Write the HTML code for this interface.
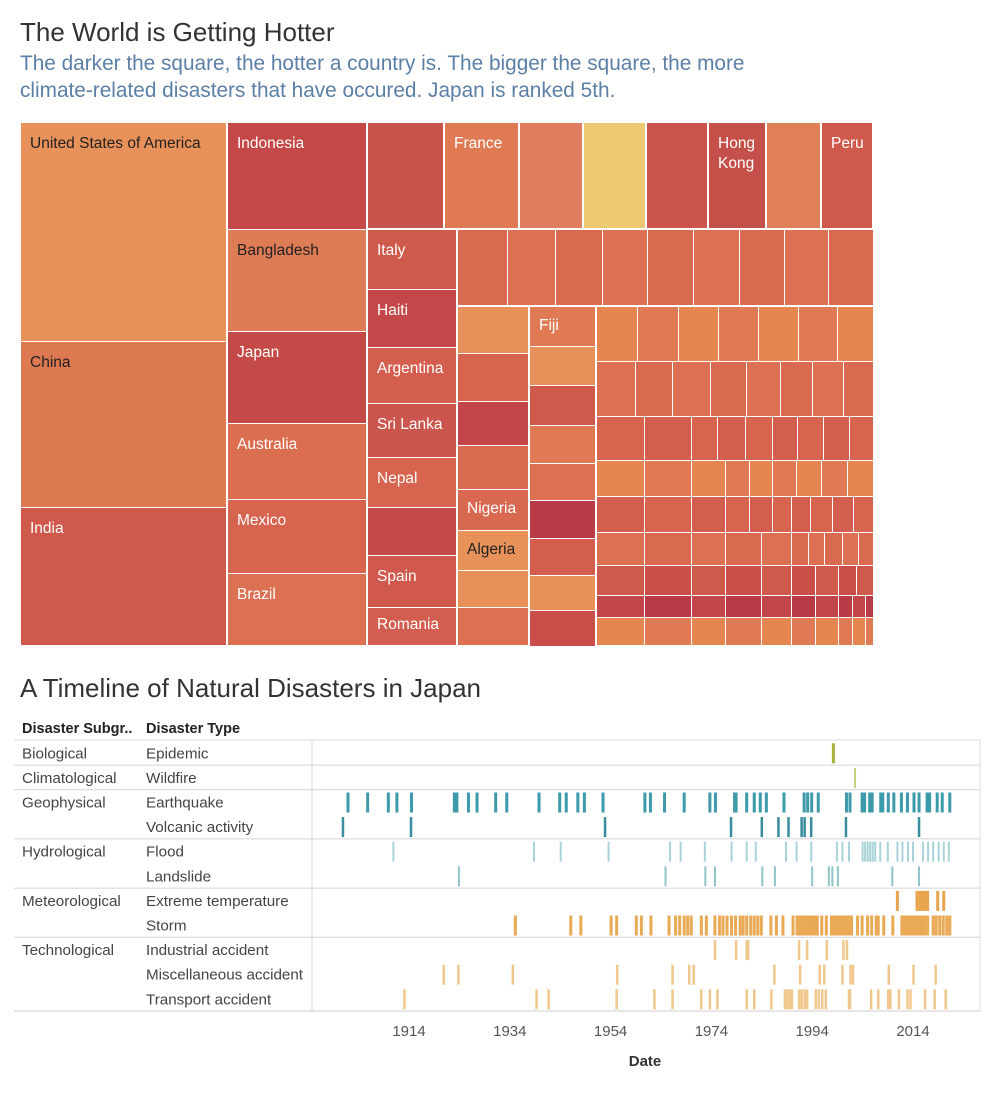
<!DOCTYPE html>
<html><head><meta charset="utf-8">
<style>
body{margin:0;width:995px;height:1100px;background:#fff;font-family:"Liberation Sans",sans-serif;position:relative;overflow:hidden}
.t{position:absolute;white-space:nowrap}
#tm{position:absolute;left:0;top:0}
.c{position:absolute;box-sizing:border-box;border:1px solid #fff;color:#fff;font-size:15.5px;padding:11px 0 0 9px;line-height:20px;white-space:nowrap}
.d{color:#222}
</style></head><body>
<div class="t" style="left:20px;top:17px;font-size:26px;color:#333">The World is Getting Hotter</div>
<div class="t" style="left:20px;top:50px;font-size:20.8px;color:#5b7fa6;line-height:27px">The darker the square, the hotter a country is. The bigger the square, the more<br>climate-related disasters that have occured. Japan is ranked 5th.</div>

<div id="tm">
<div class="c d" style="left:20px;top:122px;width:207px;height:220px;background:#e8915a">United States of America</div>
<div class="c d" style="left:20px;top:341px;width:207px;height:167px;background:#de7a52">China</div>
<div class="c" style="left:20px;top:507px;width:207px;height:139px;background:#cf5a4c">India</div>
<div class="c" style="left:227px;top:122px;width:140px;height:108px;background:#c44848">Indonesia</div>
<div class="c d" style="left:227px;top:229px;width:140px;height:103px;background:#de7c56">Bangladesh</div>
<div class="c" style="left:227px;top:331px;width:140px;height:93px;background:#c44a48">Japan</div>
<div class="c" style="left:227px;top:423px;width:140px;height:77px;background:#dc6e50">Australia</div>
<div class="c" style="left:227px;top:499px;width:140px;height:75px;background:#d6644e">Mexico</div>
<div class="c" style="left:227px;top:573px;width:140px;height:73px;background:#dc7052">Brazil</div>
<div class="c" style="left:367px;top:122px;width:77px;height:107px;background:#c8524c"></div>
<div class="c" style="left:444px;top:122px;width:75px;height:107px;background:#e07a55">France</div>
<div class="c" style="left:519px;top:122px;width:64px;height:107px;background:#e07d5e"></div>
<div class="c" style="left:583px;top:122px;width:63px;height:107px;background:#eec771"></div>
<div class="c" style="left:646px;top:122px;width:62px;height:107px;background:#cb544c"></div>
<div class="c" style="left:708px;top:122px;width:58px;height:107px;background:#c5504a">Hong<br>Kong</div>
<div class="c" style="left:766px;top:122px;width:55px;height:107px;background:#e08058"></div>
<div class="c" style="left:821px;top:122px;width:52px;height:107px;background:#cf5a4c">Peru</div>
<div class="c" style="left:367px;top:229px;width:90px;height:61px;background:#cf5a4c">Italy</div>
<div class="c" style="left:367px;top:289px;width:90px;height:59px;background:#c4484a">Haiti</div>
<div class="c" style="left:367px;top:347px;width:90px;height:57px;background:#d45e4e">Argentina</div>
<div class="c" style="left:367px;top:403px;width:90px;height:55px;background:#cb564e">Sri Lanka</div>
<div class="c" style="left:367px;top:457px;width:90px;height:51px;background:#d6644e">Nepal</div>
<div class="c" style="left:367px;top:507px;width:90px;height:49px;background:#c44a48"></div>
<div class="c" style="left:367px;top:555px;width:90px;height:53px;background:#d0584c">Spain</div>
<div class="c" style="left:367px;top:607px;width:90px;height:39px;background:#d35d4e;padding-top:7px">Romania</div>
<div class="c" style="left:457px;top:489px;width:72px;height:42px;background:#d86850;padding-top:9px">Nigeria</div>
<div class="c d" style="left:457px;top:530px;width:72px;height:41px;background:#e8925a;padding-top:9px">Algeria</div>
<div class="c" style="left:529px;top:306px;width:67px;height:41px;background:#e07a55;padding-top:9px">Fiji</div>
</div>

<div class="t" style="left:20px;top:673px;font-size:26px;color:#333">A Timeline of Natural Disasters in Japan</div>
<div class="t" style="left:22px;top:721px;font-size:14.5px;font-weight:bold;color:#222">Disaster Subgr..</div>
<div class="t" style="left:146px;top:721px;font-size:14.5px;font-weight:bold;color:#222">Disaster Type</div>
<svg id="tl" width="995" height="1100" style="position:absolute;left:0;top:0"></svg>

<script>
const fillColors=["#d96a4f","#e07a55","#c94e4a","#e8905a","#d45e4e","#c24649","#dc7052","#e5854f","#cf5a4c","#e8925a","#d6644e","#b83a46"];
const tm=document.getElementById('tm');
function cell(x,y,w,h,i){const d=document.createElement('div');d.className='c';


d.style.cssText=`left:${x}px;top:${y}px;width:${w}px;height:${h}px;background:${fillColors[i%fillColors.length]};padding:0`;tm.appendChild(d);}
let k=0;
function row(y,h,xs){for(let i=0;i<xs.length-1;i++)cell(xs[i],y,xs[i+1]-xs[i]+1,h+1,k++*5+i);}
row(229,76,[457,507,555,602,647,693,739,784,828,873]);
[[306,47],[353,48],[401,44],[445,44]].forEach(r=>cell(457,r[0],72,r[1]+1,k++*7));
cell(457,570,72,38,k++*3);cell(457,607,72,39,k++*3);
[[346,39],[385,40],[425,38],[463,37],[500,38],[538,37],[575,35],[610,36]].forEach(r=>cell(529,r[0],67,r[1]+1,k++*5));
row(306,55,[596,637,678,718,758,798,837,873]);
row(361,55,[596,635,672,710,746,780,812,843,873]);
row(416,44,[596,644,691,717,745,772,797,823,849,873]);
row(460,36,[596,644,691,725,749,772,796,821,847,873]);
row(496,36,[596,644,691,725,749,772,791,810,832,853,873]);
row(532,33,[596,644,691,725,761,791,808,824,842,858,873]);
row(565,30,[596,644,691,725,761,791,815,838,856,873]);
row(595,22,[596,644,691,725,761,791,815,838,852,865,873]);
row(617,28,[596,644,691,725,761,791,815,838,852,865,873]);
</script>

<script>
const axisYears=[1914,1934,1954,1974,1994,2014];
const subgroups=["Biological","Climatological","Geophysical","","Hydrological","","Meteorological","","Technological","",""];
const types=["Epidemic","Wildfire","Earthquake","Volcanic activity","Flood","Landslide","Extreme temperature","Storm","Industrial accident","Miscellaneous accident","Transport accident"];
const epidemic=[1998.2];
const wildfire=[2002.5];
const earthquake=[1901.9,1905.8,1909.9,1911.6,1914.5,1923,1923.5,1925.8,1927.5,1931.2,1933.4,1939.8,1943.9,1945.2,1947.5,1948.8,1952.5,1960.8,1961.9,1964.7,1968.6,1973.7,1974.8,1978.6,1978.9,1981,1982.5,1983.7,1984.9,1988.4,1992.4,1993.1,1993.9,1995.2,2000.8,2001.5,2003.9,2004.4,2005.4,2005.9,2007.6,2008,2009.1,2010.2,2011.7,2012.9,2014.2,2015.2,2016.8,2017.3,2018.8,2019.8,2021.3];
const volcanic=[1900.9,1914.4,1952.9,1977.9,1984,1987.3,1989.3,1991.9,1992.5,1993.8,2000.7,2015.2];
const flood=[1910.9,1938.8,1944.1,1953.6,1965.8,1967.9,1972.7,1978,1981,1982.8,1988.8,1990.9,1993.8,1998.9,2000,2001.3,2004,2004.5,2005,2005.5,2006,2006.5,2007.5,2009,2010.9,2011.9,2013,2014,2016,2017,2018,2019.1,2020.1,2021.1];
const landslide=[1923.9,1964.9,1972.8,1974.7,1984.1,1986.6,1994,1997.3,1998,1999.1,2009.9,2015.2];
const extremeTemp=[2010.9,2014.8,2015.4,2015.9,2016.4,2016.9,2018.9,2020.1];
const storm=[1935.1,1946.1,1948.1,1954.1,1955.2,1959.1,1960.1,1962,1965.6,1966.9,1967.7,1968.6,1969.3,1970,1972,1973,1974.7,1975.6,1976.3,1977.1,1978,1978.8,1979.7,1980.3,1981,1981.8,1982.5,1983.2,1983.9,1985.8,1986.9,1988.2,1990.2,1991,1991.5,1992,1992.5,1993,1993.5,1994,1994.5,1995,1995.9,1996.8,1997.8,1998.3,1998.8,1999.3,1999.8,2000.3,2000.8,2001.3,2001.8,2003,2003.9,2005,2005.8,2006.7,2007.1,2008.2,2010,2011.8,2012.3,2012.8,2013.3,2013.8,2014.3,2014.8,2015.3,2015.8,2016.3,2016.9,2018,2018.6,2019.3,2020,2020.7,2021.3];
const industrial=[1974.7,1978.9,1981,1981.3,1991.4,1993,1996.9,2000.2,2000.9];
const misc=[1920.9,1923.8,1934.6,1955.3,1966.3,1969.6,1970.5,1986.5,1991.6,1995.5,1996.4,2000,2001.6,2002.1,2009.2,2014.1,2018.5];
const transport=[1913.1,1939.3,1941.7,1955.2,1962.7,1966.3,1972,1973.7,1975.2,1981,1982.5,1985.9,1988.6,1989.1,1989.6,1990,1991.4,1991.9,1992.5,1993,1994.7,1995.3,1996,1996.7,2001.3,2001.5,2005.7,2007.1,2009.1,2009.5,2011.2,2012.9,2013.5,2016.4,2018.3,2020.5];

const series=[epidemic,wildfire,earthquake,volcanic,flood,landslide,extremeTemp,storm,industrial,misc,transport];
const colors=["#a9b43c","#c6cf7c","#3d9aab","#3a8d9f","#a9d3d8","#8fc4ca","#e8a44e","#e9a955","#f0c78c","#f0c78c","#f0c78c"];
const widths=[3,2,3,2.5,2,2,3,3,2.5,2.5,2.5];
const sepRows=[1,2,4,6,8];

function x(year){return 409+(year-1914)*5.04;}
function rowY(i){return 741+i*24.6;}

const svg=document.getElementById('tl');
const NS='http://www.w3.org/2000/svg';
function mk(tag,attrs){const e=document.createElementNS(NS,tag);for(const a in attrs)e.setAttribute(a,attrs[a]);svg.appendChild(e);return e;}

let e=mk('line',{x1:14,x2:980,y1:740,y2:740,stroke:'#ddd'});


e=mk('line',{x1:14,x2:980,y1:1011,y2:1011,stroke:'#ccc'});


e=mk('line',{x1:312,x2:312,y1:740,y2:1011,stroke:'#ddd'});


e=mk('line',{x1:980,x2:980,y1:740,y2:1011,stroke:'#ddd'});



sepRows.forEach(r=>{
  const y=rowY(r)-0.5;
  const l=mk('line',{x1:14,x2:980,y1:y,y2:y,stroke:'#d4d4d4'});
  
  
});

types.forEach((t,i)=>{
  const yc=rowY(i)+12.3;
  if(subgroups[i]){
    const s=mk('text',{x:22,y:yc+5,'font-size':15.2,fill:'#444','font-family':'Liberation Sans, sans-serif'});
    s.textContent=subgroups[i];
    
    
  }
  const tt=mk('text',{x:146,y:yc+5,'font-size':15.2,fill:'#444','font-family':'Liberation Sans, sans-serif'});
  tt.textContent=t;
  
  
  series[i].forEach(yr=>{
    const m=mk('rect',{x:x(yr)-widths[i]/2,y:yc-10,width:widths[i],height:20,fill:colors[i]});
    
    
  });
});

axisYears.forEach(yr=>{
  const t=mk('text',{x:x(yr),y:1036,'font-size':15,fill:'#555','text-anchor':'middle','font-family':'Liberation Sans, sans-serif'});
  t.textContent=yr;
  
  
});
e=mk('text',{x:645,y:1066,'font-size':15,'font-weight':'bold',fill:'#333','text-anchor':'middle','font-family':'Liberation Sans, sans-serif'});
e.textContent='Date';


</script>
</body></html>
